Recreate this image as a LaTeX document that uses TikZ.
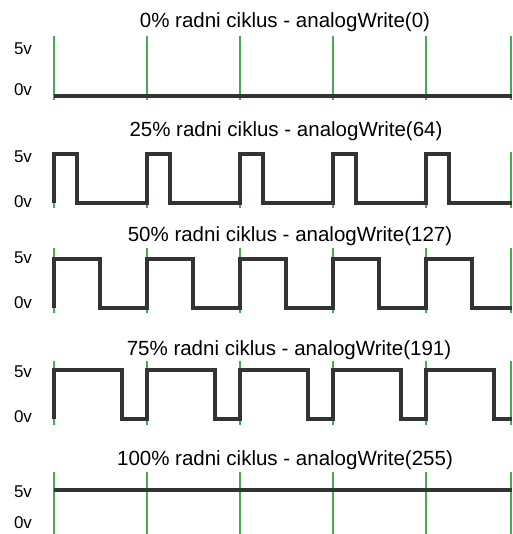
\documentclass[tikz,border=0pt]{standalone}
\usepackage{fontspec}
\setmainfont{Liberation Sans}
\definecolor{tickgreen}{RGB}{72,170,82}
\definecolor{wavegray}{RGB}{51,51,51}

\begin{document}
\begin{tikzpicture} [x=1pt, y=-1pt,
        wave/.style = {line width=4pt, wavegray, line join=miter},
        tick/.style = {line width=1.5pt, tickgreen},
        title/.style = {anchor=base, inner sep=0pt, font=\fontsize{20.5}{24}\selectfont},
        level/.style = {anchor=center, inner sep=0pt, font=\fontsize{17}{20}\selectfont}]
        \useasboundingbox (0,0) rectangle (512,534);

        % 0%
        \node (t0) [title] at (285,28) {0\% radni ciklus - analogWrite(0)};
        \node (hi0) [level] at (23,49) {5v};
        \node (lo0) [level] at (23,90) {0v};
        \foreach \x in {54,147,240,333,426,511} \draw [tick] (\x,36) -- (\x,100);
        \draw [wave] (54,96) -- (512,96);

        % 25%
        \node (t25) [title] at (286,137) {25\% radni ciklus - analogWrite(64)};
        \node (hi25) [level] at (23,157) {5v};
        \node (lo25) [level] at (23,202) {0v};
        \foreach \x in {54,147,240,333,426,511} \draw [tick] (\x,152) -- (\x,208);
        \draw [wave] (54,203) \foreach \x in {54,147,240,333,426}
                {-- (\x,203) -- (\x,154) -- ({\x+23},154) -- ({\x+23},203)} -- (512,203);

        % 50%
        \node (t50) [title] at (290,241) {50\% radni ciklus - analogWrite(127)};
        \node (hi50) [level] at (23,258) {5v};
        \node (lo50) [level] at (23,303) {0v};
        \foreach \x in {54,147,240,333,426,511} \draw [tick] (\x,248) -- (\x,313);
        \draw [wave] (54,308) \foreach \x in {54,147,240,333,426}
                {-- (\x,308) -- (\x,259) -- ({\x+46},259) -- ({\x+46},308)} -- (512,308);

        % 75%
        \node (t75) [title] at (289,355) {75\% radni ciklus - analogWrite(191)};
        \node (hi75) [level] at (23,372) {5v};
        \node (lo75) [level] at (23,417) {0v};
        \foreach \x in {54,147,240,333,426,511} \draw [tick] (\x,361) -- (\x,425);
        \draw [wave] (54,419) \foreach \x in {54,147,240,333,426}
                {-- (\x,419) -- (\x,370) -- ({\x+68},370) -- ({\x+68},419)} -- (512,419);

        % 100%
        \node (t100) [title] at (285,465) {100\% radni ciklus - analogWrite(255)};
        \node (hi100) [level] at (23,492) {5v};
        \node (lo100) [level] at (23,523) {0v};
        \foreach \x in {54,147,240,333,426,511} \draw [tick] (\x,472) -- (\x,534);
        \draw [wave] (54,490) -- (512,490);
    \end{tikzpicture}
\end{document}
